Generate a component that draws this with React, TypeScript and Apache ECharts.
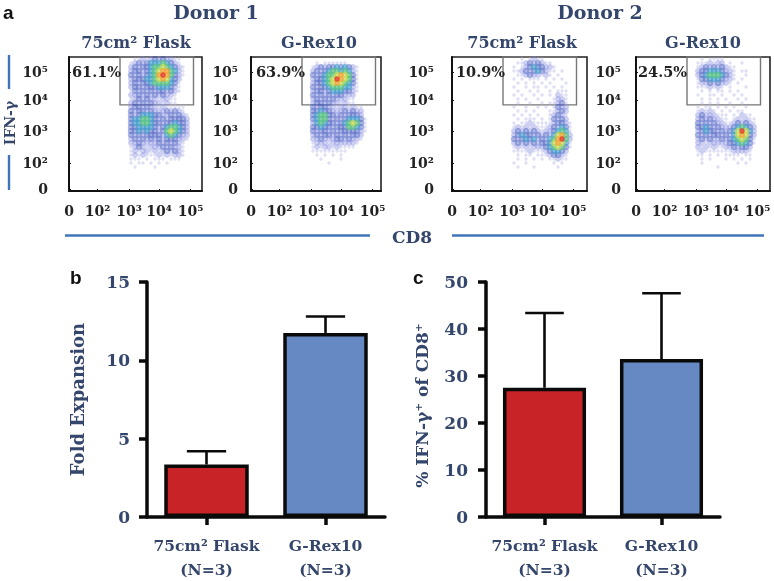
import React, { useEffect, useRef } from "react";
import * as echarts from "echarts";

// ---------- panel a: flow cytometry density ----------
// Each string is one row of density levels (0 empty .. 8 peak), top row first.
const densityD1Flask = [
  "00112123232211000",
  "01232344454321000",
  "02323345565432100",
  "02332345677542100",
  "03232345787532100",
  "02333445676432000",
  "02323345555431000",
  "02332333444321000",
  "01323232332321000",
  "02232323232210000",
  "01232322122110000",
  "02323232212110000",
  "02332322121111100",
  "03233232223232100",
  "03234443322323210",
  "03445543232333320",
  "03445543323343320",
  "03344443234554320",
  "03343433235654320",
  "03232333324543220",
  "02323232323332210",
  "02232222323232100",
  "01232122232322100",
  "01212212123232100",
  "01212111212122100",
  "01110101110111000",
  "01011010101000000",
  "00100001000000000",
];
const densityD1GRex = [
  "00000000000000000",
  "00101111110000000",
  "01232334343210000",
  "02323455454210000",
  "0323455676531",
  "0233456876531",
  "0233456765431",
  "0323345554421",
  "0233234443321",
  "0323232332220",
  "0232323222110",
  "0233232212110",
  "03233221221211",
  "03343322232322",
  "03455332323332",
  "034553232344431",
  "024543323456531",
  "033433233355431",
  "032332323333321",
  "023233232323320",
  "022322233232210",
  "01222122222210",
  "0121221211110",
  "0111111111",
  "001010101",
  "000100001",
  "000001",
  "0",
];
const densityD2Flask = [
  "00010121100000000",
  "00112323211000000",
  "01012343322100000",
  "01123234321101000",
  "00112322121010000",
  "01010111010101000",
  "00101010101000100",
  "01001011010101000",
  "00100101001011100",
  "01010010101021100",
  "00101001000122100",
  "00100100101123100",
  "01001001010132200",
  "00101010001123200",
  "01010101001232100",
  "00101110101323200",
  "01011211111233210",
  "01212121112324310",
  "02323232122345410",
  "02343323232467520",
  "03234342324578520",
  "02323232334676410",
  "01212122234565310",
  "01111211123443200",
  "00101101112332100",
  "00101010101121100",
  "01001000000101000",
  "00100010000010000",
];
const densityD2GRex = [
  "00101111000000000",
  "01112122010010000",
  "01232323211000000",
  "02334443221011000",
  "02345554321001000",
  "01334443221010000",
  "01223232210100000",
  "01112121010001000",
  "00101011010100000",
  "01001101001010000",
  "00101010100101000",
  "00101010010010000",
  "01011010101001000",
  "01212101010110000",
  "02322211101021100",
  "02323221101212110",
  "03232322112323210",
  "03343232223454320",
  "02343323234686420",
  "03232332324676320",
  "02323223234565310",
  "02212222233454310",
  "02121211223233200",
  "01211111112222100",
  "01101010111101100",
  "00101000101010100",
  "00100000000101000",
  "00000010000000000",
];
const densityPanels = [densityD1Flask, densityD1GRex, densityD2Flask, densityD2GRex];

const logTickLabels = ["0", "10²", "10³", "10⁴", "10⁵"];
const xLogTicks = [0, 0.95, 2.0, 3.0, 4.05];
const yLogTicks = [0.07, 0.93, 2.0, 3.03, 3.97];
const gateX = [1.7, 4.15];
const gateYLow = 2.87;
const gatePercents = ["61.1%", "63.9%", "10.9%", "24.5%"];
const panelTitles = ["75cm² Flask", "G-Rex10", "75cm² Flask", "G-Rex10"];

// ---------- panels b and c ----------
const barCategories = ["75cm² Flask\n(N=3)", "G-Rex10\n(N=3)"];
const foldValues = [3.35, 11.75];
const foldErrorTops = [4.2, 12.8];
const ifnValues = [27.5, 33.6];
const ifnErrorTops = [43.4, 47.6];

// ---------- layout and style ----------
const NAVY = "#34466b";
const BLUE_RULE = "#3f74b8";
const SERIF = "'DejaVu Serif', serif";
const BAR_COLORS = ["#c82327", "#6688c3"];
const LEVEL_COLORS = [
  "",
  "rgba(190,190,235,0.6)",
  "rgba(130,138,222,0.5)",
  "rgba(62,84,190,0.55)",
  "rgba(52,150,200,0.75)",
  "rgba(84,192,128,0.85)",
  "rgba(200,220,76,0.85)",
  "rgba(242,160,44,0.9)",
  "rgba(224,44,28,0.95)",
];
const LEVEL_SIZES = [0, 3.4, 6, 6.5, 6.5, 6.5, 6.5, 6, 5.5];
const boxes = [
  { left: 69, width: 133, yLabelMargin: 21 },
  { left: 251, width: 130, yLabelMargin: 13 },
  { left: 452, width: 135, yLabelMargin: 18 },
  { left: 636, width: 134, yLabelMargin: 15 },
];
const BOX_TOP = 57;
const BOX_H = 134;
const UNIT = 30;
const CELL = 4;

function densityPoints(rows: string[]) {
  const pts: number[][] = [];
  rows.forEach((row, r) => {
    row.split("").forEach((ch, c) => {
      const level = Number(ch);
      if (level > 0) {
        pts.push([(56 + CELL * c + 2) / UNIT, (BOX_H - 2 - CELL * r) / UNIT, level]);
      }
    });
  });
  return pts.sort((a, b) => a[2] - b[2]);
}

function errorBarSeries(axis: number, values: number[], tops: number[]) {
  return {
    type: "custom",
    xAxisIndex: axis,
    yAxisIndex: axis,
    z: 5,
    clip: false,
    encode: { x: 0, y: [1, 2] },
    data: values.map((v, i) => [i, v, tops[i]]),
    renderItem: (_p: any, api: any) => {
      const i = api.value(0);
      const base = api.coord([i, api.value(1)]);
      const top = api.coord([i, api.value(2)]);
      const cap = api.size([1, 0])[0] * 0.165;
      const style = { stroke: "#0a0a0a", lineWidth: 2.6 };
      return {
        type: "group",
        children: [
          { type: "line", shape: { x1: base[0], y1: base[1], x2: top[0], y2: top[1] }, style },
          { type: "line", shape: { x1: top[0] - cap, y1: top[1], x2: top[0] + cap, y2: top[1] }, style },
        ],
      };
    },
  };
}

function barSeries(axis: number, values: number[]) {
  return {
    type: "bar",
    xAxisIndex: axis,
    yAxisIndex: axis,
    barWidth: "71%",
    z: 4,
    data: values.map((v, i) => ({
      value: v,
      itemStyle: { color: BAR_COLORS[i], borderColor: "#0a0a0a", borderWidth: 3.5 },
    })),
  };
}

function buildOption() {
  const grids: any[] = boxes.map((b) => ({
    left: b.left,
    top: BOX_TOP,
    width: b.width,
    height: BOX_H,
    show: true,
    borderColor: "#222",
    borderWidth: 1.6,
    backgroundColor: "transparent",
  }));
  grids.push({ left: 147, top: 282, width: 238, height: 236 });
  grids.push({ left: 486, top: 282, width: 234, height: 236 });

  const tickFont = { fontFamily: SERIF, fontWeight: "bold", fontSize: 14, color: "#222" };
  const xAxes: any[] = boxes.map((b, i) => ({
    type: "value",
    gridIndex: i,
    min: 0,
    max: b.width / UNIT,
    splitLine: { show: false },
    axisLine: { show: true, onZero: false, lineStyle: { color: "#111", width: 2 } },
    axisTick: { show: true, customValues: xLogTicks, inside: true, length: 2, lineStyle: { color: "#111" } },
    axisLabel: {
      ...tickFont,
      customValues: xLogTicks,
      margin: 13,
      hideOverlap: false,
      formatter: (v: number) => logTickLabels[xLogTicks.indexOf(v)],
    },
  }));
  const yAxes: any[] = boxes.map((b, i) => ({
    type: "value",
    gridIndex: i,
    min: 0,
    max: BOX_H / UNIT,
    splitLine: { show: false },
    axisLine: { show: true, onZero: false, lineStyle: { color: "#111", width: 2 } },
    axisTick: { show: true, customValues: yLogTicks, inside: true, length: 2, lineStyle: { color: "#111" } },
    axisLabel: {
      ...tickFont,
      customValues: yLogTicks,
      margin: b.yLabelMargin,
      hideOverlap: false,
      formatter: (v: number) => logTickLabels[yLogTicks.indexOf(v)],
    },
  }));

  const barAxisLine = { show: true, onZero: false, lineStyle: { color: "#0a0a0a", width: 3.5 } };
  const barTick = { show: true, length: 8, lineStyle: { color: "#0a0a0a", width: 3.5 } };
  [4, 5].forEach((g) => {
    xAxes.push({
      type: "category",
      gridIndex: g,
      data: barCategories,
      axisLine: barAxisLine,
      axisTick: { ...barTick, alignWithLabel: true },
      axisLabel: {
        fontFamily: SERIF,
        fontWeight: "bold",
        fontSize: 15.5,
        color: NAVY,
        lineHeight: 24,
        margin: 16,
        interval: 0,
      },
    });
  });
  const yBarLabel = { fontFamily: SERIF, fontWeight: "bold", fontSize: 17, color: NAVY };
  yAxes.push({
    type: "value",
    gridIndex: 4,
    min: 0,
    max: 15,
    interval: 5,
    name: "Fold Expansion",
    nameLocation: "middle",
    nameGap: 61,
    nameTextStyle: { fontFamily: SERIF, fontWeight: "bold", fontSize: 18, color: NAVY },
    splitLine: { show: false },
    axisLine: barAxisLine,
    axisTick: barTick,
    axisLabel: { ...yBarLabel, margin: 17 },
  });
  yAxes.push({
    type: "value",
    gridIndex: 5,
    min: 0,
    max: 50,
    interval: 10,
    name: "% IFN-γ⁺ of CD8⁺",
    nameLocation: "middle",
    nameGap: 56,
    nameTextStyle: { fontFamily: SERIF, fontWeight: "bold", fontSize: 17, color: NAVY, padding: [0, 12, 0, 0] },
    splitLine: { show: false },
    axisLine: barAxisLine,
    axisTick: barTick,
    axisLabel: { ...yBarLabel, margin: 18 },
  });

  const series: any[] = densityPanels.map((rows, i) => ({
    type: "scatter",
    xAxisIndex: i,
    yAxisIndex: i,
    data: densityPoints(rows),
    symbol: "circle",
    symbolSize: (v: number[]) => LEVEL_SIZES[v[2]],
    itemStyle: {
      color: (p: any) => LEVEL_COLORS[p.data[2]],
    },
    markArea: {
      silent: true,
      itemStyle: { color: "transparent", borderColor: "#777", borderWidth: 1.4 },
      data: [[{ coord: [gateX[0], BOX_H / UNIT] }, { coord: [gateX[1], gateYLow] }]],
    },
  }));
  series.push(barSeries(4, foldValues), errorBarSeries(4, foldValues, foldErrorTops));
  series.push(barSeries(5, ifnValues), errorBarSeries(5, ifnValues, ifnErrorTops));

  const text = (x: number, y: number, t: string, fontSize: number, fill: string, align = "center", extra: any = {}) => ({
    type: "text",
    x,
    y,
    z: 20,
    style: {
      text: t,
      fontFamily: SERIF,
      fontWeight: "bold",
      fontSize,
      fill,
      align,
      verticalAlign: "middle",
    },
    ...extra,
  });
  const panelLetter = (x: number, y: number, t: string) => ({
    type: "text",
    x,
    y,
    style: {
      text: t,
      fontFamily: "'Liberation Sans', sans-serif",
      fontWeight: "bold",
      fontSize: 19,
      fill: "#111",
      verticalAlign: "middle",
    },
  });
  const rule = (x1: number, y1: number, x2: number, y2: number) => ({
    type: "line",
    shape: { x1, y1, x2, y2 },
    style: { stroke: BLUE_RULE, lineWidth: 2.4 },
  });

  const graphics: any[] = [
    panelLetter(3, 12, "a"),
    panelLetter(70, 277, "b"),
    panelLetter(413, 277, "c"),
    text(216, 12, "Donor 1", 19, NAVY),
    text(600, 12, "Donor 2", 19, NAVY),
    text(136, 42, panelTitles[0], 16, NAVY),
    text(319, 42, panelTitles[1], 16, NAVY),
    text(522, 42, panelTitles[2], 16, NAVY),
    text(703, 42, panelTitles[3], 16, NAVY),
    text(72, 71, gatePercents[0], 14.5, "#222", "left"),
    text(256, 71, gatePercents[1], 14.5, "#222", "left"),
    text(456, 71, gatePercents[2], 14.5, "#222", "left"),
    text(638, 71, gatePercents[3], 14.5, "#222", "left"),
    text(412, 237, "CD8", 17, NAVY),
    text(10, 123, "IFN-γ", 14, NAVY, "center", { rotation: Math.PI / 2 }),
    rule(9, 55, 9, 89),
    rule(9, 155, 9, 190),
    rule(65, 235.5, 370, 235.5),
    rule(452, 235.5, 764, 235.5),
  ];

  return {
    animation: false,
    backgroundColor: "#ffffff",
    grid: grids,
    xAxis: xAxes,
    yAxis: yAxes,
    series,
    graphic: { elements: graphics },
  };
}

export default function App() {
  const ref = useRef<HTMLDivElement>(null);
  useEffect(() => {
    document.body.style.margin = "0";
    const chart = echarts.init(ref.current!, undefined, { renderer: "svg" });
    chart.setOption(buildOption() as any);
    return () => chart.dispose();
  }, []);
  return (
    <div
      ref={ref}
      style={{ position: "absolute", left: 0, top: 0, width: 774, height: 581, filter: "blur(0.45px)" }}
    />
  );
}
